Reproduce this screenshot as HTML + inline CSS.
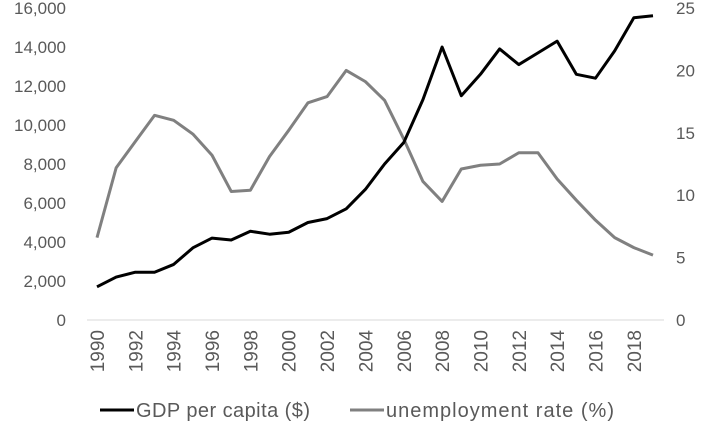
<!DOCTYPE html>
<html><head><meta charset="utf-8"><style>
html,body{margin:0;padding:0;background:#fff;}
svg{display:block;font-family:"Liberation Sans",sans-serif;}
</style></head><body>
<svg id="chart" width="709" height="426"></svg>
<script>
const years=[1990,1991,1992,1993,1994,1995,1996,1997,1998,1999,2000,2001,2002,2003,2004,2005,2006,2007,2008,2009,2010,2011,2012,2013,2014,2015,2016,2017,2018,2019];
const gdp=[1700,2200,2450,2450,2850,3700,4200,4100,4550,4400,4500,5000,5200,5700,6700,8000,9100,11300,14000,11500,12600,13900,13100,13700,14300,12600,12400,13800,15500,15600];
const unemp=[6.6,12.2,14.3,16.4,16.0,14.9,13.2,10.3,10.4,13.1,15.2,17.4,17.9,20.0,19.1,17.6,14.5,11.1,9.5,12.1,12.4,12.5,13.4,13.4,11.3,9.6,8.0,6.6,5.8,5.2];
const leftTicks=[0,2000,4000,6000,8000,10000,12000,14000,16000];
const rightTicks=[0,5,10,15,20,25];
const NS="http://www.w3.org/2000/svg";
const svg=document.getElementById('chart');
const x=y=>97+(y-1990)*(556/29);
const yl=v=>320-v/16000*312;
const yr=v=>320-v/25*312;
function mk(t,a,txt){const e=document.createElementNS(NS,t);for(const k in a)e.setAttribute(k,a[k]);if(txt!==undefined)e.textContent=txt;svg.appendChild(e);return e;}
let ax=mk('line',{x1:87,x2:664,y1:320,y2:320,stroke:'#d9d9d9','stroke-width':1});


leftTicks.forEach(v=>{const t=mk('text',{x:66,y:yl(v)+6,'text-anchor':'end','font-size':17,fill:'#595959'},v.toLocaleString('en-US'));

});
rightTicks.forEach(v=>{const t=mk('text',{x:676,y:yr(v)+6,'text-anchor':'start','font-size':17,fill:'#595959'},String(v));

});
years.forEach(yv=>{if(yv%2)return;const xx=x(yv)+7;const t=mk('text',{x:xx,y:330,'text-anchor':'end','font-size':19,fill:'#595959',transform:`rotate(-90 ${xx} 330)`},String(yv));

});
const p1=mk('polyline',{points:years.map((yv,i)=>x(yv)+','+yr(unemp[i])).join(' '),fill:'none',stroke:'#808080','stroke-width':3,'stroke-linejoin':'round'});


const p2=mk('polyline',{points:years.map((yv,i)=>x(yv)+','+yl(gdp[i])).join(' '),fill:'none',stroke:'#000','stroke-width':3,'stroke-linejoin':'round'});


const l1=mk('line',{x1:100,x2:134,y1:410,y2:410,stroke:'#000','stroke-width':3});


const t1=mk('text',{x:136,y:417,'font-size':20,fill:'#595959',textLength:174},'GDP per capita ($)');


const l2=mk('line',{x1:350,x2:384,y1:410,y2:410,stroke:'#808080','stroke-width':3});


const t2=mk('text',{x:386,y:417,'font-size':20,fill:'#595959',textLength:228},'unemployment rate (%)');


</script>
</body></html>
